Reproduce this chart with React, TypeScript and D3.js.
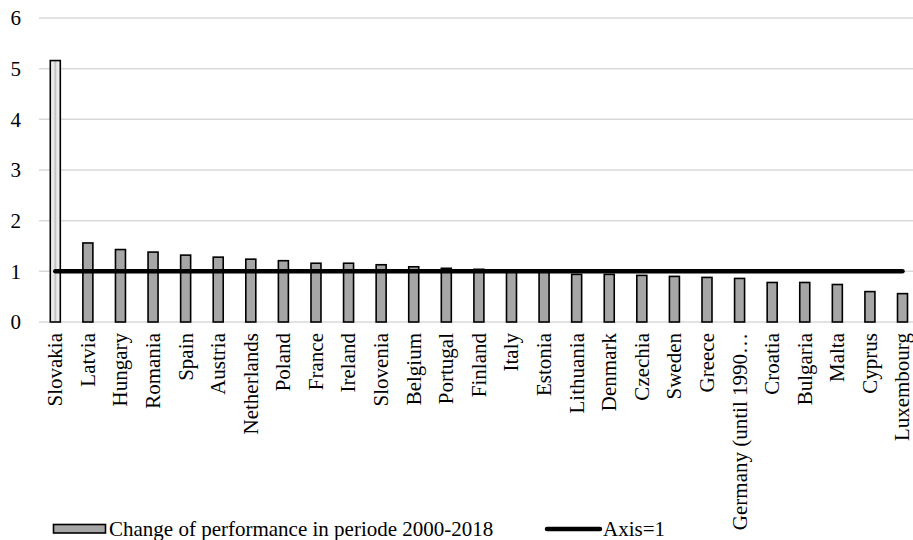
import React from "react";
import * as d3 from "d3";

const countries = [
  "Slovakia", "Latvia", "Hungary", "Romania", "Spain", "Austria", "Netherlands",
  "Poland", "France", "Ireland", "Slovenia", "Belgium", "Portugal", "Finland",
  "Italy", "Estonia", "Lithuania", "Denmark", "Czechia", "Sweden", "Greece",
  "Germany (until 1990…", "Croatia", "Bulgaria", "Malta", "Cyprus", "Luxembourg",
];
const performance = [
  5.16, 1.56, 1.43, 1.38, 1.32, 1.28, 1.24, 1.21, 1.16, 1.16, 1.13, 1.09, 1.06,
  1.04, 1.02, 1.01, 0.94, 0.94, 0.92, 0.9, 0.88, 0.86, 0.78, 0.78, 0.74, 0.6, 0.56,
];
const axisValue = 1;
const yTicks = [0, 1, 2, 3, 4, 5, 6];
const seriesLabel = "Change of performance in periode 2000-2018";
const lineLabel = "Axis=1";

const W = 913;
const H = 540;
const FONT = '"Liberation Serif", "Times New Roman", "DejaVu Serif", serif';
const txt: React.CSSProperties = { fontFamily: FONT, fontSize: "21px" };

export default function App() {
  const x = d3.scaleBand<string>().domain(countries).range([39, 918.8]).padding(0);
  const y = d3.scaleLinear().domain([0, 6]).range([322, 18]);
  const barW = 10;
  const first = countries[0];
  const last = countries[countries.length - 1];
  const cx = (c: string) => (x(c) as number) + x.bandwidth() / 2;
  const lineGen = d3
    .line<string>()
    .x((c) => cx(c))
    .y(() => y(axisValue));

  return (
    <div style={{ position: "absolute", left: 0, top: 0 }}>
      <svg width={W} height={H} style={{ display: "block", background: "#fff", fontFamily: FONT }}>
        <defs>
          <linearGradient id="slk" x1="0" x2="1" y1="0" y2="0">
            <stop offset="0" stopColor="#f2f2f2" />
            <stop offset="0.35" stopColor="#e6e6e6" />
            <stop offset="0.5" stopColor="#bcbcbc" />
            <stop offset="0.65" stopColor="#e6e6e6" />
            <stop offset="1" stopColor="#f2f2f2" />
          </linearGradient>
        </defs>
        {yTicks.map((t) => (
          <g key={t}>
            <line x1={39} x2={W} y1={y(t)} y2={y(t)} stroke="#d9d9d9" strokeWidth={1.5} />
            <text x={21} y={y(t)} dy="0.35em" textAnchor="end" style={txt} fill="#000">
              {t}
            </text>
          </g>
        ))}
        {countries.map((c, i) => (
          <rect
            key={c}
            x={cx(c) - barW / 2}
            y={y(performance[i])}
            width={barW}
            height={y(0) - y(performance[i])}
            fill={i === 0 ? "url(#slk)" : "#a6a6a6"}
            stroke="#000"
            strokeWidth={1.6}
          />
        ))}
        <path
          d={lineGen([first, last]) as string}
          stroke="#000"
          strokeWidth={4.5}
          strokeLinecap="round"
          fill="none"
        />
        {countries.map((c) => (
          <text
            key={c}
            transform={`translate(${cx(c)},333) rotate(-90)`}
            dy="0.33em"
            textAnchor="end"
            style={txt}
            fill="#000"
          >
            {c}
          </text>
        ))}
        <g>
          <rect x={53.5} y={524.5} width={52} height={8.5} fill="#a6a6a6" stroke="#000" strokeWidth={1.6} />
          <text x={109} y={536} style={txt} fill="#000">
            {seriesLabel}
          </text>
          <line x1={547} x2={600} y1={529} y2={529} stroke="#000" strokeWidth={4.5} strokeLinecap="round" />
          <text x={603} y={536} style={txt} fill="#000">
            {lineLabel}
          </text>
        </g>
      </svg>
    </div>
  );
}
